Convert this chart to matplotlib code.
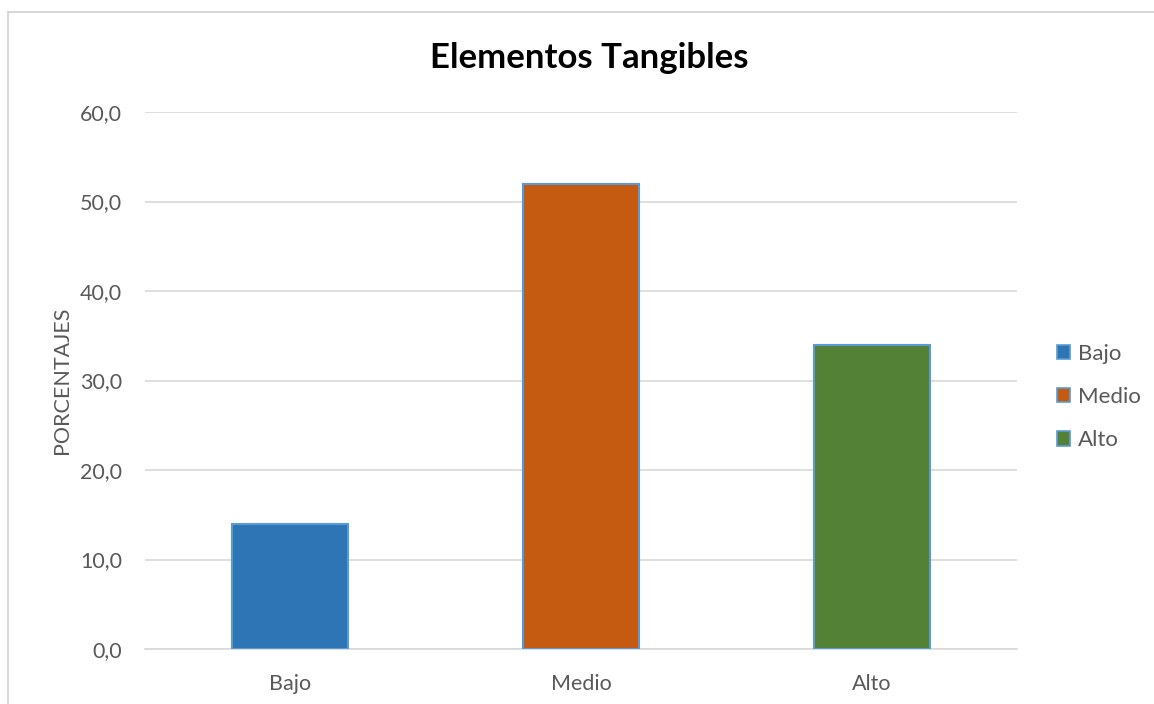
import matplotlib
matplotlib.use("Agg")
import matplotlib.pyplot as plt
from matplotlib.lines import Line2D
from matplotlib.patches import Patch

categories = ["Bajo", "Medio", "Alto"]
values = [14.0, 52.0, 34.0]
colors = ["#2E75B6", "#C55A11", "#538135"]
yticks = [0, 10, 20, 30, 40, 50, 60]
ytick_labels = ["0,0", "10,0", "20,0", "30,0", "40,0", "50,0", "60,0"]

plt.rcParams["font.family"] = ["Lato", "DejaVu Sans"]
W, H = 1154, 704
fig = plt.figure(figsize=(W / 100, H / 100), dpi=100)

# plot area in pixel coordinates
left, right, top, bottom = 145, 1017, 112, 649
ax = fig.add_axes([left / W, 1 - bottom / H, (right - left) / W, (bottom - top) / H])

x = list(range(len(categories)))
ax.bar(x, values, width=0.4, color=colors, edgecolor="#5B9BD5", linewidth=1.5, zorder=3)
ax.set_xlim(-0.5, len(categories) - 0.5)
ax.set_ylim(0, 60)
ax.set_yticks(yticks)
ax.set_yticklabels(ytick_labels)
ax.set_xticks(x)
ax.set_xticklabels(categories)
ax.grid(axis="y", color="#D9D9D9", linewidth=1.2, zorder=0)
for s in ["top", "right", "left"]:
    ax.spines[s].set_visible(False)
ax.spines["bottom"].set_color("#D9D9D9")
ax.spines["bottom"].set_linewidth(1.2)
ax.tick_params(axis="both", length=0, labelsize=15.5, colors="#595959")
ax.tick_params(axis="y", pad=16.5)
ax.tick_params(axis="x", pad=18)
ax.set_ylabel("PORCENTAJES", fontsize=15.5, color="#595959", labelpad=6)

fig.text(589 / W, 1 - 58 / H, "Elementos Tangibles", ha="center", va="center",
         fontsize=25, fontweight="bold", color="#000000")

handles = [Patch(facecolor=c, edgecolor="#5B9BD5", linewidth=1.2) for c in colors]
leg = fig.legend(handles, categories, loc="center left",
                 bbox_to_anchor=(1057 / W, 1 - 397 / H), frameon=False,
                 fontsize=16, labelcolor="#595959", handlelength=0.6,
                 handleheight=0.6, handletextpad=0.35, labelspacing=1.05,
                 borderpad=0, borderaxespad=0)

# chart border (top and left edges)
fig.add_artist(Line2D([8 / W, 1.0], [1 - 12 / H, 1 - 12 / H], color="#D9D9D9", linewidth=1.5))
fig.add_artist(Line2D([8 / W, 8 / W], [0, 1 - 12 / H], color="#D9D9D9", linewidth=1.5))

fig.savefig("out.png", dpi=100)
